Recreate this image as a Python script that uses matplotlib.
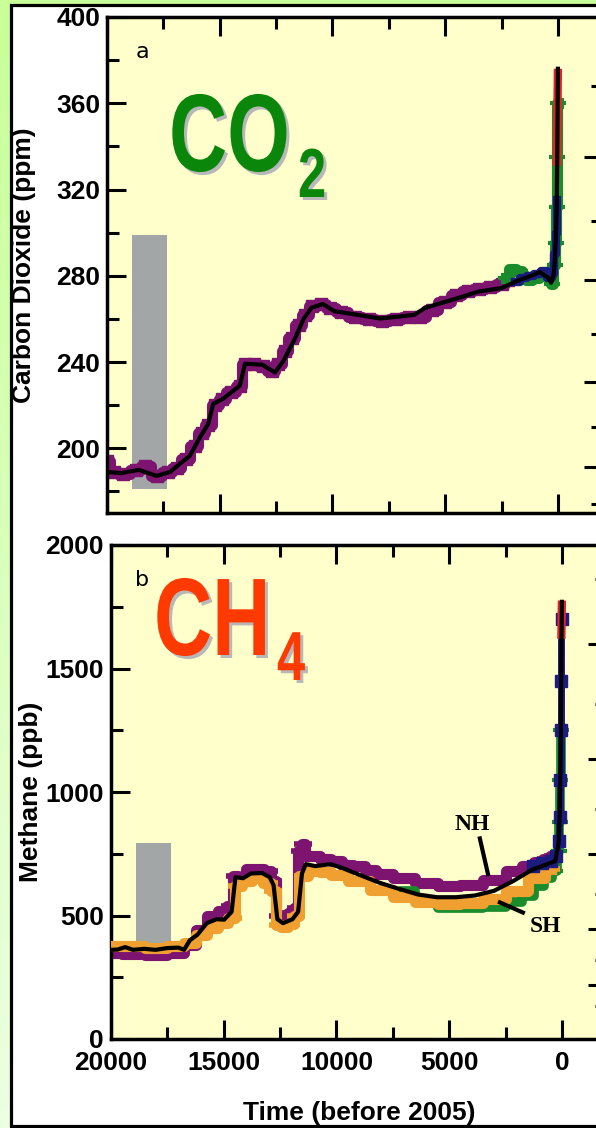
import numpy as np
import matplotlib
matplotlib.use("Agg")
import matplotlib.pyplot as plt
import matplotlib.patheffects as pe
from matplotlib.patches import Rectangle
from matplotlib.transforms import Affine2D
from matplotlib.ticker import MultipleLocator, FixedLocator, NullFormatter

# ---- data ----
# CO2, smoothed curve (years before 2005, ppm)
co2_years = [20000, 19360, 18590, 17800, 17210, 16770, 16330, 15880, 15510, 15290, 14850,
             14110, 13880, 13120, 12550, 12190, 11690, 11270, 10930, 10420, 9920, 8900,
             7890, 7050, 6380, 5870, 4520, 3510, 2500, 1820, 1150, 810, 420, 300, 200,
             150, 100, 55, 25, 0]
co2_ppm = [189, 188.5, 190, 187.2, 189, 192.8, 196.5, 205, 211.3, 220.6, 223,
           229, 239.2, 238.8, 235.2, 240.3, 250.3, 260.2, 265.2, 266.9, 263.6, 261.9,
           260.2, 261.1, 261.9, 265.2, 269.4, 272.7, 274.3, 277.6, 280.1, 281.8, 279, 276.8, 280,
           285, 296, 311, 339, 376]
# CO2, Antarctic ice cores (purple)
co2_ice_years = [20000, 19700, 19300, 18700, 18300, 17800, 17300, 16900, 16500, 16100, 15800,
                 15500, 15200, 14900, 14500, 14100, 13900, 13500, 13100, 12700, 12400, 12100,
                 11800, 11500, 11200, 10900, 10500, 10100, 9600, 9000, 8400, 7800, 7200, 6600,
                 6100, 5600, 5000, 4500, 4000, 3500, 3000, 2500, 2200]
co2_ice_ppm = [194, 189, 188, 190, 192, 187, 189, 191, 195, 201, 207,
               211, 220, 223, 226, 229, 239, 239, 238, 236, 239, 245,
               251, 257, 262, 266, 267, 265, 263, 261, 260, 259, 260, 261,
               261, 264, 268, 271, 273, 274, 275, 276, 278]
# CO2, recent ice cores / firn
co2_green_years = [2300, 2000, 1700, 1500, 1300, 1000, 700, 400, 250, 150, 100, 60, 35, 15]
co2_green_ppm = [279, 283, 282, 280, 278, 279, 281, 280, 276, 285, 295, 312, 335, 360]
co2_navy_years = [1900, 1500, 1200, 900, 600, 350, 200, 120, 70, 40]
co2_navy_ppm = [277, 279, 280, 281, 282, 279, 281, 290, 300, 315]
co2_red_years = [45, 0]
co2_red_ppm = [331, 376]

# CH4, smoothed curve (years before 2005, ppb)
ch4_years = [20000, 19710, 19370, 19030, 18530, 18020, 17520, 17010, 16760, 16500, 16170,
             15750, 15320, 14980, 14650, 14480, 14140, 13800, 13300, 12960, 12790, 12620,
             12370, 11950, 11700, 11530, 11360, 10940, 10260, 9760, 8910, 8070, 7230, 6380,
             5540, 4700, 3860, 3010, 2170, 1330, 650, 300, 150, 100, 55, 25, 0]
ch4_ppb = [361, 362, 372, 361, 365, 361, 368, 370, 361, 400, 422,
           469, 485, 483, 515, 655, 651, 670, 672, 655, 623, 485,
           469, 485, 515, 670, 708, 700, 708, 693, 662, 632, 608, 585,
           574, 574, 581, 600, 639, 685, 708, 720, 790, 900, 1150, 1550, 1770]
# CH4, Greenland (NH, purple)
ch4_nh_years = [20000, 19000, 18000, 17000, 16500, 16000, 15500, 15000, 14700, 14500, 14200,
                13800, 13400, 13000, 12800, 12600, 12300, 12000, 11800, 11600, 11500, 11300,
                11000, 10500, 10000, 9500, 9000, 8500, 8000, 7000, 6000, 5000, 4000, 3000,
                2000, 1500, 1000, 700, 400]
ch4_nh_ppb = [350, 345, 340, 350, 380, 440, 500, 520, 540, 660, 640,
              690, 690, 680, 640, 500, 500, 510, 530, 760, 790, 740,
              740, 730, 720, 705, 700, 685, 670, 650, 630, 620, 625, 645,
              680, 700, 715, 728, 740]
# CH4, Antarctica (SH, orange)
ch4_sh_years = [20000, 19000, 18000, 17000, 16500, 16000, 15500, 15000, 14600, 14400, 14000,
                13500, 13000, 12800, 12600, 12300, 12000, 11800, 11500, 11000, 10500, 10000,
                9000, 8000, 7000, 6000, 5000, 4000, 3000, 2000, 1000, 500]
ch4_sh_ppb = [375, 375, 370, 375, 390, 420, 450, 470, 490, 620, 640,
              650, 630, 600, 460, 455, 465, 500, 660, 680, 675, 665,
              640, 605, 575, 555, 548, 552, 565, 600, 650, 690]
ch4_green_years = [7000, 6000, 5000, 4000, 3000, 2000, 1500, 1000, 600, 300, 150, 100, 70, 50]
ch4_green_ppb = [600, 560, 532, 530, 535, 555, 580, 620, 650, 680, 760, 880, 1050, 1250]
ch4_navy_years = [1300, 900, 500, 250, 150, 100, 70, 45, 30, 15]
ch4_navy_ppb = [700, 712, 722, 740, 800, 900, 1050, 1250, 1450, 1700]
ch4_red_years = [25, 0]
ch4_red_ppb = [1620, 1775]

# grey bars (range of natural variability)
gray_x = [18900, 17350]
co2_gray = [181, 299]
ch4_gray = [318, 792]

# ---- style ----
W, H, DPI = 596, 1128, 100
purple = "#7d1470"
orange = "#f0a030"
green = "#1a8c2c"
navy = "#1c1c80"
red = "#e8202a"
face = "#ffffcc"
grey = "#a3a6a6"

plt.rcParams["font.family"] = ["Liberation Sans", "DejaVu Sans"]

STRETCH = 1.37  # condensed look: glyphs drawn taller than their nominal size


class Tall(pe.AbstractPathEffect):
    """Stretch the text path vertically about its baseline, optionally as an offset shadow."""

    def __init__(self, y0, sy, offset=(0, 0), color=None):
        super().__init__()
        self.y0, self.sy, self.off, self.color = y0, sy, offset, color

    def draw_path(self, renderer, gc, tpath, affine, rgbFace=None):
        aff = affine + Affine2D().translate(0, -self.y0).scale(1, self.sy).translate(
            self.off[0], self.y0 + self.off[1])
        face_col = self.color if self.color is not None else rgbFace
        renderer.draw_path(gc, tpath, aff, face_col)


def big_text(x, y, s, color, size):
    y0 = H - y  # baseline in display pixels
    fig.text(x / W, y0 / H, s, color=color, fontsize=size, fontweight="bold",
             ha="left", va="baseline",
             path_effects=[Tall(y0, STRETCH, (3, -3), (0.72, 0.72, 0.72)),
                           Tall(y0, STRETCH)])


fig = plt.figure(figsize=(W / DPI, H / DPI), dpi=DPI)

# background: green gradient plus white framed panel
bg = fig.add_axes([0, 0, 1, 1], zorder=-10)
grad = np.linspace(0, 1, 256).reshape(-1, 1)
cmap = matplotlib.colors.LinearSegmentedColormap.from_list("g", ["#c8ff98", "#ecffe2"])
bg.imshow(grad, extent=[0, 1, 0, 1], aspect="auto", cmap=cmap, origin="upper")
bg.add_patch(Rectangle((10.5 / W, 1 - 1126 / H), 2.0, (1126 - 4.5) / H,
                       facecolor="white", edgecolor="black", lw=2.3))
bg.set_xlim(0, 1)
bg.set_ylim(0, 1)
bg.axis("off")

ax1 = fig.add_axes([107 / W, 1 - 513 / H, 496 / W, 496 / H])
ax2 = fig.add_axes([111 / W, 1 - 1039 / H, 496 / W, 494 / H])


def style(ax):
    ax.set_facecolor(face)
    for s in ax.spines.values():
        s.set_linewidth(2.5)
    ax.set_xlim(20000, -2000)
    ax.xaxis.set_major_locator(MultipleLocator(5000))
    ax.xaxis.set_minor_locator(MultipleLocator(2500))
    ax.tick_params(which="both", direction="in", top=True, right=False, width=2.2,
                   labelsize=19, pad=5)
    ax.tick_params(which="major", length=13.5)
    ax.tick_params(which="minor", length=8.5)


def right_ticks(ax, fwd, inv, major, minor):
    sec = ax.secondary_yaxis("right", functions=(fwd, inv))
    sec.set_yticks(major)
    sec.yaxis.set_minor_locator(FixedLocator(minor))
    sec.tick_params(which="both", direction="in", width=2.2, labelright=False)
    sec.tick_params(which="major", length=13.5)
    sec.tick_params(which="minor", length=8.5)
    sec.yaxis.set_major_formatter(NullFormatter())


# ---- CO2 panel ----
style(ax1)
ax1.set_ylim(170, 400)
ax1.yaxis.set_major_locator(MultipleLocator(40))
ax1.yaxis.set_minor_locator(MultipleLocator(20))
ax1.tick_params(axis="x", labelbottom=False)
ax1.set_yticklabels([f"{int(v)}" for v in ax1.get_yticks()], fontweight="bold")
ax1.fill_between(gray_x, co2_gray[0], co2_gray[1], color=grey, lw=0, zorder=1)
ax1.plot(co2_ice_years, co2_ice_ppm, color=purple, lw=8, drawstyle="steps-mid",
         marker="s", ms=8, zorder=2)
ax1.plot(co2_green_years, co2_green_ppm, color=green, lw=8, drawstyle="steps-mid",
         marker="_", ms=12, mew=3, zorder=3)
ax1.plot(co2_navy_years, co2_navy_ppm, color=navy, lw=6, drawstyle="steps-mid", zorder=4)
ax1.plot(co2_red_years, co2_red_ppm, color=red, lw=6, solid_capstyle="butt", zorder=5)
ax1.plot(co2_years, co2_ppm, color="black", lw=3, zorder=6, solid_joinstyle="round")
ax1.set_ylabel("Carbon Dioxide (ppm)", fontsize=19, fontweight="bold")
ax1.yaxis.set_label_coords(-0.143, 0.5)
ax1.text(0.072, 0.93, "a", fontsize=16, family="DejaVu Sans", transform=ax1.transAxes,
         ha="center", va="center")
right_ticks(ax1,
            lambda c: 5.35 * np.log(np.clip(c, 1e-3, None) / 278.0),
            lambda f: 278.0 * np.exp(np.asarray(f) / 5.35),
            [-2, -1, 0, 1], [-2.5, -1.5, -0.5, 0.5, 1.5])

big_text(169, 171, "CO", "#0a860a", 58)
big_text(298, 197, "2", "#0a860a", 36.5)

# ---- CH4 panel ----
style(ax2)
ax2.set_ylim(0, 2000)
ax2.yaxis.set_major_locator(MultipleLocator(500))
ax2.yaxis.set_minor_locator(MultipleLocator(250))
ax2.tick_params(axis="x", pad=9)
ax2.set_xticklabels([f"{int(v)}" for v in ax2.get_xticks()], fontweight="bold")
ax2.set_yticklabels([f"{int(v)}" for v in ax2.get_yticks()], fontweight="bold")
ax2.fill_between(gray_x, ch4_gray[0], ch4_gray[1], color=grey, lw=0, zorder=1)
ax2.plot(ch4_nh_years, ch4_nh_ppb, color=purple, lw=8, drawstyle="steps-mid",
         marker="_", ms=13, mew=4, zorder=2)
ax2.plot(ch4_sh_years, ch4_sh_ppb, color=orange, lw=8, drawstyle="steps-mid",
         marker="_", ms=13, mew=4, zorder=3)
ax2.plot(ch4_green_years, ch4_green_ppb, color=green, lw=7, drawstyle="steps-mid",
         marker="_", ms=12, mew=3, zorder=2.5)
ax2.plot(ch4_navy_years, ch4_navy_ppb, color=navy, lw=5, drawstyle="steps-mid",
         marker="s", ms=8, zorder=4)
ax2.plot(ch4_red_years, ch4_red_ppb, color=red, lw=6, solid_capstyle="butt", zorder=5)
ax2.plot(ch4_years, ch4_ppb, color="black", lw=3, zorder=6, solid_joinstyle="round")
ax2.set_ylabel("Methane (ppb)", fontsize=19, fontweight="bold")
ax2.yaxis.set_label_coords(-0.137, 0.5)
ax2.set_xlabel("Time (before 2005)", fontsize=19, fontweight="bold")
ax2.xaxis.set_label_coords(0.5, -0.125)
ax2.text(0.062, 0.93, "b", fontsize=16, family="DejaVu Sans", transform=ax2.transAxes,
         ha="center", va="center")

ax2.text(3990, 870, "NH", family="Liberation Serif", weight="bold", fontsize=17,
         ha="center", va="center", zorder=7)
ax2.plot([3640, 3280], [812, 668], color="black", lw=3, zorder=7)
ax2.text(750, 457, "SH", family="Liberation Serif", weight="bold", fontsize=17,
         ha="center", va="center", zorder=7)
ax2.plot([2750, 1730], [553, 512], color="black", lw=3, zorder=7)
right_ticks(ax2,
            lambda m: 0.0317 * (np.sqrt(np.clip(m, 0, None)) - np.sqrt(750.0)),
            lambda f: (np.asarray(f) / 0.0317 + np.sqrt(750.0)) ** 2,
            [-0.4, -0.2, 0, 0.2, 0.4], [-0.5, -0.3, -0.1, 0.1, 0.3, 0.5])

big_text(154, 655, "CH", "#ff3a00", 58)
big_text(277, 680, "4", "#ff3a00", 36.5)

fig.savefig("out.png", dpi=DPI)
